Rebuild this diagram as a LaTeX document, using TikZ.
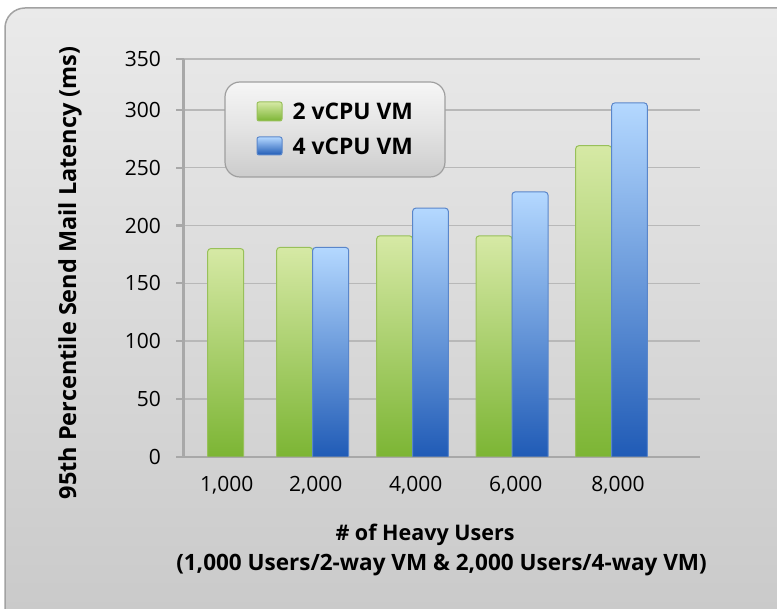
\documentclass[tikz,border=0pt]{standalone}
\usepackage{fontspec}
\setmainfont{Open Sans}

\definecolor{panelTop}{HTML}{EAEAEA}
\definecolor{panelBottom}{HTML}{C9C9C9}
\definecolor{panelEdge}{HTML}{A2A2A2}
\definecolor{gridGray}{HTML}{B8B8B8}
\definecolor{axisGray}{HTML}{A8A8A8}
\definecolor{greenTop}{HTML}{D6E9A5}
\definecolor{greenBottom}{HTML}{7CB534}
\definecolor{greenEdge}{HTML}{98C05A}
\definecolor{blueTop}{HTML}{B4D8FF}
\definecolor{blueBottom}{HTML}{205BB6}
\definecolor{blueEdge}{HTML}{5A86CA}

\tikzset{
    greenbar/.style={draw=greenEdge, line width=1pt, top color=greenTop, bottom color=greenBottom},
    bluebar/.style={draw=blueEdge, line width=1pt, top color=blueTop, bottom color=blueBottom},
    gridline/.style={gridGray, line width=1.5pt},
    axisline/.style={axisGray, line width=2.2pt},
    ticklabel/.style={anchor=east, inner sep=0pt, font=\fontsize{21}{25}\selectfont},
    catlabel/.style={inner sep=0pt, font=\fontsize{21}{25}\selectfont},
    titlelabel/.style={inner sep=0pt, font=\fontsize{21.5}{26}\selectfont\bfseries},
    legendtext/.style={anchor=west, inner sep=0pt, font=\fontsize{22.8}{27}\selectfont\bfseries}
}

% bar from x=#1 to x=#2 with value #3, rounded on top only
\newcommand{\chartbar}[4]{%
    \draw[#4, rounded corners=3pt] (#1,456.7) |- ({(#1+#2)/2},{456.7-1.156*#3}) -| (#2,456.7);
}

\begin{document}
\begin{tikzpicture}[x=1pt, y=-1pt]
                \useasboundingbox (0,0) rectangle (777,609);
                \begin{scope}
                    \clip (0,0) rectangle (777,609);
                    \shade[top color=panelTop, bottom color=panelBottom, rounded corners=20pt]
                        (5,8) rectangle (800,630);
                    \draw[panelEdge, line width=1.5pt, rounded corners=20pt] (5,8) rectangle (800,630);
                \end{scope}

                \draw [gridline] (184,59) -- (700,59);
                \draw [gridline] (184,110) -- (700,110);
                \draw [gridline] (184,167.7) -- (700,167.7);
                \draw [gridline] (184,225.5) -- (700,225.5);
                \draw [gridline] (184,283.3) -- (700,283.3);
                \draw [gridline] (184,341.1) -- (700,341.1);
                \draw [gridline] (184,398.9) -- (700,398.9);

                \draw [axisline] (183.5,59) -- (183.5,456.7);
                \draw [axisline] (176,456.7) -- (700,456.7);
                \foreach \ty in {59,110,167.7,225.5,283.3,341.1,398.9}
                    \draw [axisline] (176,\ty) -- (183.5,\ty);

                \node [ticklabel] (t350) at (161,59) {350};
                \node [ticklabel] (t300) at (161,110) {300};
                \node [ticklabel] (t250) at (161,167.7) {250};
                \node [ticklabel] (t200) at (161,225.5) {200};
                \node [ticklabel] (t150) at (161,283.3) {150};
                \node [ticklabel] (t100) at (161,341.1) {100};
                \node [ticklabel] (t50) at (161,398.9) {50};
                \node [ticklabel] (t0) at (161,456.7) {0};

                \chartbar{207.7}{243.7}{180}{greenbar}
                \chartbar{276.7}{312.7}{181}{greenbar}
                \chartbar{312.7}{348.7}{181}{bluebar}
                \chartbar{376.7}{412.7}{191}{greenbar}
                \chartbar{412.7}{448.3}{215}{bluebar}
                \chartbar{476}{512}{191}{greenbar}
                \chartbar{512}{548}{229}{bluebar}
                \chartbar{575.7}{611.7}{269}{greenbar}
                \chartbar{611.7}{647.3}{306}{bluebar}

                \node [catlabel] (c1000) at (226.7,485) {1,000};
                \node [catlabel] (c2000) at (315.7,485) {2,000};
                \node [catlabel] (c4000) at (415.7,485) {4,000};
                \node [catlabel] (c6000) at (515.7,485) {6,000};
                \node [catlabel] (c8000) at (618,485) {8,000};

                \node [titlelabel] (xtitle) at (425,535) {\# of Heavy Users};
                \node [titlelabel, font=\fontsize{22.5}{27}\selectfont\bfseries] (xsub) at (441.5,565)
                    {(1,000 Users/2-way VM \& 2,000 Users/4-way VM)};
                \node [titlelabel, font=\fontsize{23.5}{28}\selectfont\bfseries, rotate=90] (ytitle) at (70,273)
                    {95th Percentile Send Mail Latency (ms)};

                \shade [top color=white!93!gray, bottom color=gray!40, middle color=gray!22,
                        draw=gray!75, line width=1.2pt, rounded corners=15pt] (225,82) rectangle (445,177);
                \draw [greenbar, rounded corners=2pt] (257,102) rectangle (282,121);
                \draw [bluebar, rounded corners=2pt] (257,137) rectangle (282,155);
                \node [legendtext] (lgreen) at (292.5,111.5) {2 vCPU VM};
                \node [legendtext] (lblue) at (292.5,146.5) {4 vCPU VM};
            \end{tikzpicture}
\end{document}
